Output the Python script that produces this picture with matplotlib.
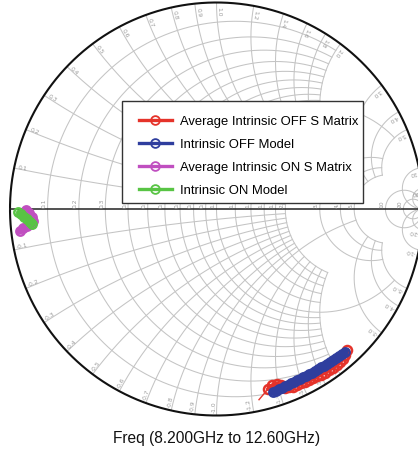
import numpy as np
import matplotlib
matplotlib.use("Agg")
import matplotlib.pyplot as plt
from matplotlib.lines import Line2D
from matplotlib.patches import Rectangle

# ---------------- data (reflection coefficient, real / imaginary) ----------------
off_meas_re = [0.2058, 0.2494, 0.2688, 0.2930, 0.3123, 0.3317, 0.3511, 0.3705, 0.3898,
               0.4092, 0.4286, 0.4479, 0.4673, 0.4867, 0.5061, 0.5254, 0.5448, 0.5642,
               0.5835, 0.5981, 0.6126, 0.6223, 0.6320]
off_meas_im = [-0.9235, -0.8717, -0.8547, -0.8475, -0.8523, -0.8668, -0.8620, -0.8596, -0.8523,
               -0.8450, -0.8378, -0.8305, -0.8208, -0.8111, -0.8015, -0.7918, -0.7797, -0.7676,
               -0.7554, -0.7409, -0.7264, -0.7094, -0.6828]

off_model_re = [0.2736, 0.2881, 0.3027, 0.3172, 0.3317, 0.3462, 0.3608, 0.3753, 0.3898,
                0.4044, 0.4189, 0.4334, 0.4479, 0.4625, 0.4770, 0.4915, 0.5061, 0.5206,
                0.5351, 0.5496, 0.5642, 0.5787, 0.5932, 0.6077, 0.6223]
off_model_im = [-0.8877, -0.8804, -0.8731, -0.8659, -0.8586, -0.8513, -0.8441, -0.8368, -0.8295,
                -0.8223, -0.8150, -0.8077, -0.8005, -0.7923, -0.7835, -0.7748, -0.7661, -0.7579,
                -0.7492, -0.7400, -0.7308, -0.7215, -0.7119, -0.7012, -0.6901]

on_meas_re = [-0.9225, -0.9080, -0.8935, -0.8886, -0.8983, -0.9177, -0.9370, -0.9516]
on_meas_im = [-0.0048, -0.0194, -0.0387, -0.0581, -0.0726, -0.0823, -0.0920, -0.1065]

on_model_re = [-0.9590, -0.9467, -0.9322, -0.9177, -0.9031, -0.8930]
on_model_im = [-0.0160, -0.0266, -0.0387, -0.0508, -0.0630, -0.0710]

series_labels = ["Average Intrinsic OFF S Matrix", "Intrinsic OFF Model",
                 "Average Intrinsic ON S Matrix", "Intrinsic ON Model"]
series_colors = ["#e5332a", "#2f3e9e", "#c04fc0", "#58c444"]

# Smith chart grid values and how far each circle / arc is drawn
r_values = [0.1, 0.2, 0.3, 0.4, 0.5, 0.6, 0.7, 0.8, 0.9, 1.0,
            1.2, 1.4, 1.6, 1.8, 2.0, 3.0, 4.0, 5.0, 10.0, 20.0]
r_extent = [2, 2, 2, 2, 2, 2, 2, 2, 2, 5,
            2, 2, 2, 2, 2, 5, 5, 5, None, None]
r_labels = ["0.1", "0.2", "0.3", "0.4", "0.5", "0.6", "0.7", "0.8", "0.9", "1.0",
            "1.2", "1.4", "1.6", "1.8", "2.0", "3.0", "4.0", "5.0", "10", "20"]
x_values = r_values
x_extent = [2, 2, 2, 2, 2, 2, 2, 2, 2, 5,
            2, 2, 2, 2, 2, 5, 5, 5, None, None]
x_labels = r_labels

freq_text = "Freq (8.200GHz to 12.60GHz)"

# ---------------- figure ----------------
W, H = 418, 452
CX, CY, R = 216.5, 210.0, 206.5
fig = plt.figure(figsize=(W / 100, H / 100), dpi=100)
ax = fig.add_axes([0, 0, 1, 1])
ax.set_xlim((0 - CX) / R, (W - CX) / R)
ax.set_ylim((CY - H) / R, CY / R)
ax.axis("off")

grid_c = "#c4c4c4"
lab_c = "#9a9a9a"
gw = 0.75


def gam(z):
    return (z - 1) / (z + 1)


for r, ext in zip(r_values, r_extent):
    if ext is None:
        t = np.linspace(0, 2 * np.pi, 600)
        c, rad = r / (1 + r), 1 / (1 + r)
        ax.plot(c + rad * np.cos(t), rad * np.sin(t), color=grid_c, lw=gw, zorder=1)
    else:
        xx = np.linspace(-ext, ext, 1500)
        g = gam(r + 1j * xx)
        ax.plot(g.real, g.imag, color=grid_c, lw=gw, zorder=1)

for x, ext in zip(x_values, x_extent):
    if ext is None:
        rr = np.tan(np.linspace(0, np.pi / 2 - 1e-3, 1500))
    else:
        rr = np.linspace(0, ext, 1500)
    for s in (1, -1):
        g = gam(rr + 1j * s * x)
        ax.plot(g.real, g.imag, color=grid_c, lw=gw, zorder=1)

# outer circle and real axis
t = np.linspace(0, 2 * np.pi, 800)
ax.plot(np.cos(t), np.sin(t), color="#111111", lw=1.5, zorder=2)
ax.plot([-1, 1.05], [0, 0], color="#222222", lw=1.1, zorder=2)

# resistance labels on the real axis
for r, lab in zip(r_values, r_labels):
    g = (r - 1) / (r + 1)
    ax.text(g - 0.004, 0.008, lab, rotation=90, ha="right", va="bottom",
            fontsize=4.3, color=lab_c, zorder=2)

# reactance labels around the rim
for x, lab in zip(x_values, x_labels):
    for s in (1, -1):
        g = gam(1j * s * x)
        th = np.degrees(np.arctan2(g.imag, g.real))
        txt = lab if s > 0 else "-" + lab
        ax.text(0.985 * g.real, 0.985 * g.imag, txt, rotation=th + 180,
                rotation_mode="anchor", ha="left", va="bottom",
                fontsize=4.3, color=lab_c, zorder=2)

# data traces
traces = [(off_meas_re, off_meas_im), (off_model_re, off_model_im),
          (on_meas_re, on_meas_im), (on_model_re, on_model_im)]
line_w = [3.0, 5.0, 5.0, 3.5]
for i, ((re, im), col) in enumerate(zip(traces, series_colors)):
    if i == 0:
        ax.plot(re[:2], im[:2], color=col, lw=1.0, zorder=3)
        ax.plot(re[1:], im[1:], color=col, lw=line_w[i], marker="o", ms=6.5,
                mfc="none", mew=1.8, zorder=3, solid_capstyle="round")
    else:
        ax.plot(re, im, color=col, lw=line_w[i], marker="o", ms=6.0, mfc="none",
                mew=1.8, zorder=3 + i, solid_capstyle="round")

# legend
fr = Rectangle((122 / W, 1 - 204 / H), (363 - 122) / W, (204 - 102) / H,
               transform=fig.transFigure, facecolor="white", edgecolor="#333333",
               lw=1.0, zorder=8)
ax.add_patch(fr)
handles = [Line2D([], [], color=c, lw=2.4, marker="o", ms=6.3, mfc="none", mew=1.3)
           for c in series_colors]
leg = ax.legend(handles, series_labels, loc="upper left",
                bbox_to_anchor=(139 / W, 1 - 116 / H), bbox_transform=fig.transFigure,
                frameon=False, borderaxespad=0, borderpad=0, handlelength=2.5,
                handletextpad=0.62, labelspacing=0.84,
                prop={"family": ["Liberation Sans", "DejaVu Sans"], "size": 9.4})
leg.set_zorder(9)

fig.text(217 / W, 1 - 439 / H, freq_text, ha="center", va="center", fontsize=11.2,
         family=["Liberation Sans", "DejaVu Sans"], color="#111111")

fig.savefig("out.png", dpi=100)
